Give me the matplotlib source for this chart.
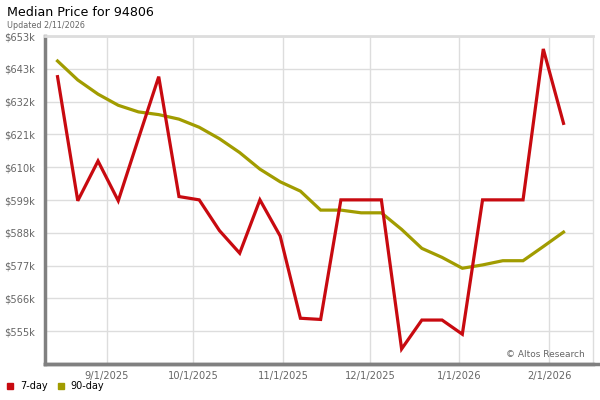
import matplotlib
matplotlib.use("Agg")
import matplotlib.pyplot as plt
import numpy as np
import pandas as pd

# ---- data ----
dates = pd.date_range("2025-08-15", periods=26, freq="7D")
day7 = [639.5, 598.3, 611.5, 598.3, 619.0, 639.5, 599.7, 598.6, 588.4, 580.9,
        598.6, 586.6, 559.3, 558.9, 598.6, 598.6, 598.6, 549.1, 558.7, 558.7,
        554.0, 598.6, 598.6, 598.6, 648.7, 624.0]
day90 = [644.7, 638.4, 633.7, 630.0, 627.8, 626.9, 625.4, 622.7, 618.9, 614.3,
         608.8, 604.6, 601.5, 595.2, 595.2, 594.3, 594.3, 588.8, 582.5, 579.5,
         575.9, 577.0, 578.4, 578.4, 583.1, 587.9]
ytick_labels = ["$555k", "$566k", "$577k", "$588k", "$599k", "$610k",
                "$621k", "$632k", "$643k", "$653k"]
xtick_dates = ["2025-09-01", "2025-10-01", "2025-11-01", "2025-12-01",
               "2026-01-01", "2026-02-01"]
xtick_labels = ["9/1/2025", "10/1/2025", "11/1/2025", "12/1/2025",
                "1/1/2026", "2/1/2026"]

red = "#c80a10"
olive = "#a19c00"
gray = "#666666"

fig = plt.figure(figsize=(6, 4), dpi=100)
ax = fig.add_axes([0.075, 0.09, 0.914, 0.82])

yticks = np.linspace(555, 653, 10)
step = yticks[1] - yticks[0]
ax.set_ylim(555 - step, 653)
ax.set_xlim(pd.Timestamp("2025-08-10 16:00"), pd.Timestamp("2026-02-16 08:00"))

ax.plot(dates, day90, color=olive, lw=2.3, solid_joinstyle="miter", zorder=3)
ax.plot(dates, day7, color=red, lw=2.3, solid_joinstyle="miter", zorder=4)

ax.set_yticks(yticks)
ax.set_yticklabels(ytick_labels)
ax.set_xticks(pd.to_datetime(xtick_dates))
ax.set_xticklabels(xtick_labels)
ax.tick_params(axis="both", length=0, labelsize=7.1, colors=gray)
ax.tick_params(axis="y", pad=7)
ax.tick_params(axis="x", pad=5)
ax.grid(True, color="#dddddd", lw=1)
ax.set_axisbelow(True)

for s in ["top", "right"]:
    ax.spines[s].set_color("#dddddd")
ax.spines["top"].set_linewidth(2)
ax.spines["right"].set_linewidth(1)
ax.spines["left"].set_color("#808080")
ax.spines["left"].set_linewidth(2.5)
ax.spines["bottom"].set_color("#808080")
ax.spines["bottom"].set_linewidth(2.5)

# extend bottom axis line to the right like the reference
fig.add_artist(plt.Line2D([0.075, 0.997], [0.09, 0.09], color="#808080", lw=2.5,
                          transform=fig.transFigure))

fig.text(0.012, 0.968, "Median Price for 94806", fontsize=9.1, color="black",
         va="center", ha="left")
fig.text(0.012, 0.937, "Updated 2/11/2026", fontsize=5.8, color=gray,
         va="center", ha="left")

ax.text(0.985, 0.015, "\u00a9 Altos Research", transform=ax.transAxes,
        fontsize=6.5, color=gray, ha="right", va="bottom")

# legend
fig.patches.append(plt.Rectangle((0.012, 0.028), 0.01, 0.015, color=red,
                                 transform=fig.transFigure))
fig.text(0.033, 0.035, "7-day", fontsize=7, va="center", ha="left")
fig.patches.append(plt.Rectangle((0.097, 0.028), 0.01, 0.015, color=olive,
                                 transform=fig.transFigure))
fig.text(0.118, 0.035, "90-day", fontsize=7, va="center", ha="left")

fig.savefig("out.png", dpi=100)
